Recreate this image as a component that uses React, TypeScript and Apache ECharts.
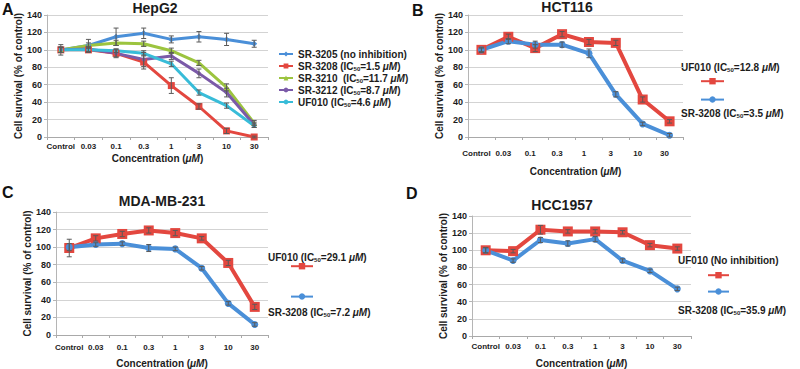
import React, { useEffect, useRef } from 'react';
import * as echarts from 'echarts';

// ---------- data ----------
const concentrations = ['Control', '0.03', '0.1', '0.3', '1', '3', '10', '30'];

// Panel A: HepG2
const hepg2SR3205 = [100, 105, 115, 119, 112, 115, 112, 107];
const hepg2SR3205Err = [6, 7, 10, 6, 4, 6, 7, 4];
const hepg2SR3208 = [100, 100, 96, 86, 59, 35, 7, 0];
const hepg2SR3208Err = [3, 3, 5, 8, 9, 3, 3, 1];
const hepg2SR3210 = [100, 105, 108, 107, 99, 85, 57, 16];
const hepg2SR3210Err = [3, 3, 3, 3, 3, 3, 4, 3];
const hepg2SR3212 = [100, 101, 96, 89, 93, 73, 51, 14];
const hepg2SR3212Err = [3, 3, 4, 8, 4, 5, 5, 3];
const hepg2UF010 = [100, 100, 99, 96, 84, 51, 36, 13];
const hepg2UF010Err = [3, 2, 2, 3, 3, 3, 3, 2];

// Panel B: HCT116
const hct116UF010 = [100, 115, 102, 118, 109, 108, 43, 18];
const hct116UF010Err = [3, 3, 4, 3, 3, 3, 3, 2];
const hct116SR3208 = [100, 110, 106, 106, 96, 49, 15, 2];
const hct116SR3208Err = [2, 3, 4, 3, 5, 3, 2, 2];

// Panel C: MDA-MB-231
const mdaUF010 = [99, 110, 115, 119, 116, 110, 82, 32];
const mdaUF010Err = [10, 3, 3, 3, 3, 2, 3, 3];
const mdaSR3208 = [100, 103, 104, 99, 98, 76, 36, 12];
const mdaSR3208Err = [4, 2, 2, 4, 2, 2, 2, 2];

// Panel D: HCC1957
const hccUF010 = [100, 99, 124, 122, 122, 121, 106, 102];
const hccUF010Err = [3, 2, 5, 2, 2, 2, 2, 2];
const hccSR3208 = [100, 88, 112, 108, 113, 88, 76, 55];
const hccSR3208Err = [3, 2, 3, 3, 3, 2, 2, 2];

const yTicks = { min: 0, max: 140, interval: 20 };

// ---------- styling ----------
const FONT = "'Liberation Sans', Arial, Helvetica, sans-serif";
const TXT = '#1c1c1c';
const BLUE = '#4a8fd8';
const RED = '#e3473f';
const GREEN = '#9cc43f';
const PURPLE = '#7b5aa8';
const CYAN = '#38bcd8';

const rich = {
  b: { fontFamily: FONT, fontWeight: 'bold', fontSize: 10, color: TXT, fill: TXT, lineHeight: 12 },
  i: { fontFamily: FONT, fontWeight: 'bold', fontStyle: 'italic', fontSize: 10, color: TXT, fill: TXT, lineHeight: 12 },
  s: { fontFamily: FONT, fontWeight: 'bold', fontSize: 6, color: TXT, fill: TXT, lineHeight: 6, verticalAlign: 'bottom' },
};

function toRich(name: string): string {
  const m = name.match(/^(.*\(IC)50=([\d.]+ )μM\)$/);
  if (!m) return `{b|${name}}`;
  return `{b|${m[1]}}{s|50}{b|=${m[2]}}{i|μM}{b|)}`;
}

type S = { name: string; data: number[]; err: number[]; color: string; symbol: string; size: number; width: number };

const panelSeries: S[][] = [
  [
    { name: 'SR-3205 (no inhibition)', data: hepg2SR3205, err: hepg2SR3205Err, color: BLUE, symbol: 'diamond', size: 6, width: 3 },
    { name: 'SR-3208 (IC50=1.5 μM)', data: hepg2SR3208, err: hepg2SR3208Err, color: RED, symbol: 'rect', size: 7, width: 3 },
    { name: 'SR-3210  (IC50=11.7 μM)', data: hepg2SR3210, err: hepg2SR3210Err, color: GREEN, symbol: 'triangle', size: 6, width: 3 },
    { name: 'SR-3212 (IC50=8.7 μM)', data: hepg2SR3212, err: hepg2SR3212Err, color: PURPLE, symbol: 'circle', size: 4, width: 3 },
    { name: 'UF010 (IC50=4.6 μM)', data: hepg2UF010, err: hepg2UF010Err, color: CYAN, symbol: 'circle', size: 4, width: 3 },
  ],
  [
    { name: 'UF010 (IC50=12.8 μM)', data: hct116UF010, err: hct116UF010Err, color: RED, symbol: 'rect', size: 10, width: 4 },
    { name: 'SR-3208 (IC50=3.5 μM)', data: hct116SR3208, err: hct116SR3208Err, color: BLUE, symbol: 'circle', size: 7, width: 4 },
  ],
  [
    { name: 'UF010 (IC50=29.1 μM)', data: mdaUF010, err: mdaUF010Err, color: RED, symbol: 'rect', size: 10, width: 4 },
    { name: 'SR-3208 (IC50=7.2 μM)', data: mdaSR3208, err: mdaSR3208Err, color: BLUE, symbol: 'circle', size: 7, width: 4 },
  ],
  [
    { name: 'UF010 (No inhibition)', data: hccUF010, err: hccUF010Err, color: RED, symbol: 'rect', size: 10, width: 4 },
    { name: 'SR-3208 (IC50=35.9 μM)', data: hccSR3208, err: hccSR3208Err, color: BLUE, symbol: 'circle', size: 7, width: 4 },
  ],
];

const panels = [
  { title: 'HepG2', letter: 'A', grid: { left: 47, top: 15, width: 221, height: 122 }, titleX: 155, titleY: 1, letterX: 2, letterY: 1, labelMargin: 5, nameGap: 15, yNameGap: 24, labelPad: 0 },
  { title: 'HCT116', letter: 'B', grid: { left: 468, top: 15, width: 215, height: 122 }, titleX: 567, titleY: 0, letterX: 412, letterY: 2, labelMargin: 12, nameGap: 28, yNameGap: 24, labelPad: 10 },
  { title: 'MDA-MB-231', letter: 'C', grid: { left: 56, top: 212, width: 212, height: 123 }, titleX: 162, titleY: 194, letterX: 2, letterY: 184, labelMargin: 8, nameGap: 22, yNameGap: 24, labelPad: 0 },
  { title: 'HCC1957', letter: 'D', grid: { left: 472, top: 216, width: 219, height: 121 }, titleX: 562, titleY: 198, letterX: 406, letterY: 185, labelMargin: 6, nameGap: 21, yNameGap: 24, labelPad: 0 },
];

// side legends (B-D): label above first icon, label below second icon
const sideLegends = [
  null,
  { left: 700, top: 78, gap: 12, w: 23, text1: { x: 681, y: 68 }, text2: { x: 681, y: 114 } },
  { left: 290, top: 263, gap: 24, w: 22, text1: { x: 268, y: 258 }, text2: { x: 268, y: 313 } },
  { left: 707, top: 272, gap: 10, w: 21, text1: { x: 678, y: 261 }, text2: { x: 678, y: 311 } },
];

function buildOption() {
  const grid: any[] = [];
  const xAxis: any[] = [];
  const yAxis: any[] = [];
  const series: any[] = [];
  const title: any[] = [];
  const legend: any[] = [];
  const graphic: any[] = [];

  panels.forEach((p, k) => {
    grid.push({ ...p.grid, containLabel: false });
    xAxis.push({
      type: 'category',
      gridIndex: k,
      data: concentrations,
      boundaryGap: true,
      axisLine: { lineStyle: { color: '#a9a9a9', width: 1 } },
      axisTick: { show: true, length: 3, lineStyle: { color: '#a9a9a9' } },
      axisLabel: { interval: 0, margin: p.labelMargin, fontFamily: FONT, fontWeight: 'bold', fontSize: 8, color: TXT, padding: [0, p.labelPad, 0, 0] },
      name: '{b|Concentration (}{i|μM}{b|)}',
      nameLocation: 'middle',
      nameGap: p.nameGap,
      nameTextStyle: { rich },
      splitLine: { show: false },
    });
    yAxis.push({
      type: 'value',
      gridIndex: k,
      ...yTicks,
      axisLine: { show: true, lineStyle: { color: '#b5b5b5', width: 1 } },
      axisTick: { show: true, length: 3, lineStyle: { color: '#b5b5b5' } },
      axisLabel: { margin: 5, fontFamily: FONT, fontWeight: 'bold', fontSize: 9, color: TXT },
      splitLine: { show: true, lineStyle: { color: '#d3d3d3', width: 1 } },
      name: 'Cell survival (% of control)',
      nameLocation: 'middle',
      nameGap: p.yNameGap,
      nameTextStyle: { fontFamily: FONT, fontWeight: 'bold', fontSize: 10, color: TXT },
    });
    title.push({
      text: p.title,
      left: p.titleX,
      top: p.titleY,
      padding: 0,
      textAlign: 'center',
      textStyle: { fontFamily: FONT, fontWeight: 'bold', fontSize: 14, color: TXT },
    });
    graphic.push({
      type: 'text',
      left: p.letterX,
      top: p.letterY,
      style: { text: p.letter, font: `bold 16px ${FONT}`, fill: '#111' },
    });

    const errData: number[][] = [];
    panelSeries[k].forEach((s) => {
      series.push({
        type: 'line',
        name: s.name,
        xAxisIndex: k,
        yAxisIndex: k,
        data: s.data,
        symbol: s.symbol,
        symbolSize: s.size,
        lineStyle: { color: s.color, width: s.width },
        itemStyle: { color: s.color, opacity: 1 },
        z: 2,
      });
      s.data.forEach((v, i) => {
        if (s.err[i] > 0) errData.push([i, v - s.err[i], v + s.err[i]]);
      });
    });
    series.push({
      type: 'custom',
      xAxisIndex: k,
      yAxisIndex: k,
      data: errData,
      encode: { x: 0, y: [1, 2] },
      z: 3,
      silent: true,
      renderItem: (params: any, api: any) => {
        const idx = api.value(0);
        const lo = api.coord([idx, api.value(1)]);
        const hi = api.coord([idx, api.value(2)]);
        const w = 2.5;
        const style = { stroke: '#5a5a5a', lineWidth: 1 };
        return {
          type: 'group',
          children: [
            { type: 'line', shape: { x1: hi[0], y1: hi[1], x2: lo[0], y2: lo[1] }, style },
            { type: 'line', shape: { x1: hi[0] - w, y1: hi[1], x2: hi[0] + w, y2: hi[1] }, style },
            { type: 'line', shape: { x1: lo[0] - w, y1: lo[1], x2: lo[0] + w, y2: lo[1] }, style },
          ],
        };
      },
    });

    if (k === 0) {
      legend.push({
        data: panelSeries[0].map((s) => s.name),
        orient: 'vertical',
        left: 278,
        top: 48,
        padding: 0,
        itemWidth: 14,
        itemHeight: 6,
        itemGap: 0,
        selectedMode: false,
        formatter: (name: string) => toRich(name),
        textStyle: { rich, lineHeight: 12, fontSize: 10 },
      });
    } else {
      const L = sideLegends[k]!;
      legend.push({
        data: panelSeries[k].map((s) => s.name),
        orient: 'vertical',
        left: L.left,
        top: L.top,
        padding: 0,
        itemWidth: L.w,
        itemHeight: 8,
        itemGap: L.gap,
        selectedMode: false,
        formatter: () => '',
        textStyle: { fontSize: 8, lineHeight: 8 },
      });
      graphic.push({
        type: 'text',
        left: L.text1.x,
        top: L.text1.y - 6,
        style: { text: toRich(panelSeries[k][0].name), rich },
      });
      graphic.push({
        type: 'text',
        left: L.text2.x,
        top: L.text2.y - 6,
        style: { text: toRich(panelSeries[k][1].name), rich },
      });
    }
  });

  return { animation: false, backgroundColor: '#ffffff', grid, xAxis, yAxis, series, title, legend, graphic };
}

export default function App() {
  const ref = useRef<HTMLDivElement>(null);
  useEffect(() => {
    if (!ref.current) return;
    const chart = echarts.init(ref.current, undefined, { renderer: 'svg' });
    chart.setOption(buildOption() as any);
    return () => chart.dispose();
  }, []);
  return <div ref={ref} style={{ position: 'absolute', left: 0, top: 0, width: 800, height: 369 }} />;
}
